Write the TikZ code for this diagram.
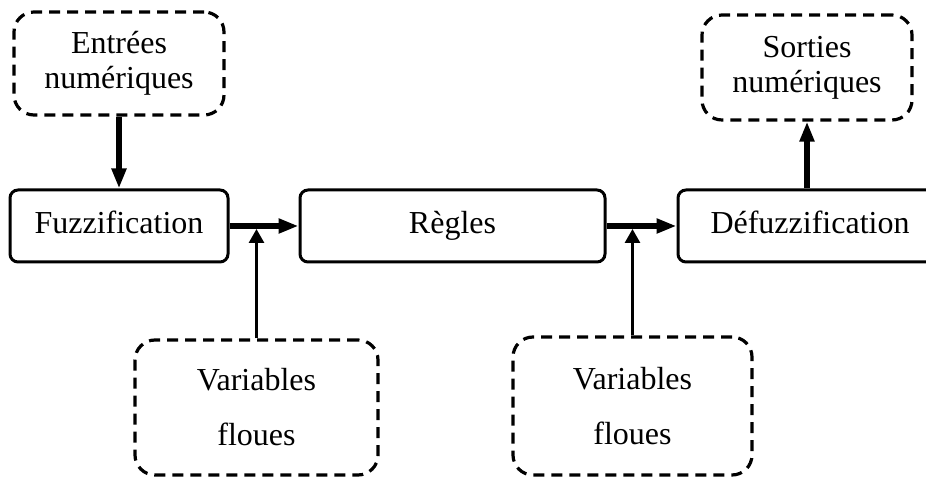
\documentclass[tikz,border=0pt]{standalone}
\usepackage{fontspec}
\setmainfont{Liberation Serif}
\usetikzlibrary{arrows.meta}

\begin{document}
\begin{tikzpicture}[x=0.5pt,y=-0.5pt,
    % solid boxes for the three stages of the chain
    stage/.style={draw, line width=1.5pt, rounded corners=4pt,
        minimum height=36pt, inner sep=0pt, text height=11pt, text depth=3pt,
        font=\fontsize{16}{17.5}\selectfont},
    % dashed boxes for what goes in and comes out
    io/.style={draw, line width=1.6pt, dash pattern=on 5.5pt off 3.5pt,
        rounded corners=10pt, inner sep=0pt, align=center,
        font=\fontsize{16}{17.5}\selectfont},
    thick arrow/.style={line width=3pt, -{Triangle[length=10pt,width=7pt]}},
    thin arrow/.style={line width=1.4pt, -{Triangle[length=7pt,width=7.5pt]}}]
% Fix the margins of the picture (the last box runs past the edge)
\useasboundingbox (0,0) rectangle (926,485);
% The chain of stages, left to right
\node[stage, minimum width=109pt] (fuzz) at (119,226) {Fuzzification};
\node[stage, minimum width=152.5pt] (regles) at (452.5,226) {Règles};
\node[stage, minimum width=132pt] (defuzz) at (810,226) {Défuzzification};
% Numeric inputs and outputs above the chain
\node[io, minimum width=105pt, minimum height=51.5pt] (entrees) at (119,63.5)
    {Entrées\\numériques};
\node[io, minimum width=105pt, minimum height=52.5pt] (sorties) at (807,67.5)
    {Sorties\\numériques};
% Fuzzy variables below the chain; these lines sit further apart
\node[io, minimum width=121.5pt, minimum height=67.5pt,
    font=\fontsize{16}{27.5}\selectfont] (flou1) at (256.5,407.5)
    {Variables\\floues};
\node[io, minimum width=119.5pt, minimum height=69pt,
    font=\fontsize{16}{27.5}\selectfont] (flou2) at (632.5,406)
    {Variables\\floues};
% Thick arrows along the chain
\draw[thick arrow] (entrees) -- (fuzz);
\draw[thick arrow] (fuzz) -- (regles);
\draw[thick arrow] (regles) -- (defuzz);
\draw[thick arrow] (sorties |- defuzz.north) -- (sorties);
% The fuzzy variables join the thick arrows from below
\draw[thin arrow, shorten >=1.5pt] (flou1) -- (flou1 |- fuzz.east);
\draw[thin arrow, shorten >=1.5pt] (flou2) -- (flou2 |- regles.east);
\end{tikzpicture}
\end{document}
